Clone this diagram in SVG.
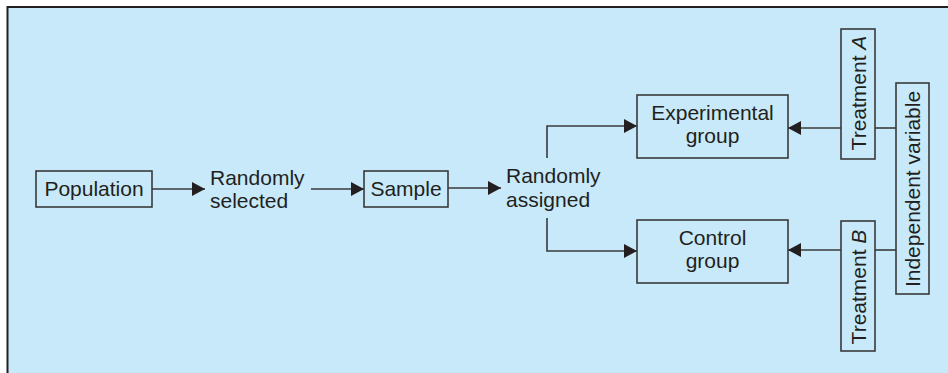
<svg xmlns="http://www.w3.org/2000/svg" width="948" height="373" viewBox="0 0 948 373">
<defs>
<style>
.t{font-family:"Liberation Sans",Arial,sans-serif;font-size:21px;fill:#231F20}
.b{fill:none;stroke:#3a3a3a;stroke-width:1.6}
.c{fill:none;stroke:#3a3a3a;stroke-width:1.6}
</style>
<marker id="ah" markerUnits="userSpaceOnUse" markerWidth="14" markerHeight="14" viewBox="0 0 14 14" refX="13" refY="7" orient="auto">
<path d="M0,0 L13,7 L0,14 Z" fill="#231F20"/>
</marker>
</defs>
<rect x="0" y="0" width="948" height="373" fill="#ffffff"/>
<rect x="8" y="8" width="940" height="365" fill="#C7E9F9"/>
<path d="M7.5,373 V7 H948" fill="none" stroke="#231F20" stroke-width="2"/>
<g id="connectors">
<path class="c" d="M152,189 H205" marker-end="url(#ah)"/>
<path class="c" d="M311,189 H364" marker-end="url(#ah)"/>
<path class="c" d="M448,188 H501" marker-end="url(#ah)"/>
<path class="c" d="M547,158 V126 H637" marker-end="url(#ah)"/>
<path class="c" d="M547,218 V251 H637" marker-end="url(#ah)"/>
<path class="c" d="M841,128 H788" marker-end="url(#ah)"/>
<path class="c" d="M841,250 H788" marker-end="url(#ah)"/>
<path class="c" d="M875,128 H896"/>
<path class="c" d="M875,250 H896"/>
</g>
<g id="population">
<rect class="b" x="36" y="171" width="116" height="36"/>
<text class="t" x="94" y="196" text-anchor="middle">Population</text>
</g>
<g id="randomly-selected">
<text class="t" x="210" y="185">Randomly</text>
<text class="t" x="210" y="208">selected</text>
</g>
<g id="sample">
<rect class="b" x="364" y="171" width="84" height="36"/>
<text class="t" x="406" y="196" text-anchor="middle">Sample</text>
</g>
<g id="randomly-assigned">
<text class="t" x="506" y="183">Randomly</text>
<text class="t" x="506" y="207">assigned</text>
</g>
<g id="experimental-group">
<rect class="b" x="637" y="95" width="151" height="63"/>
<text class="t" x="712.5" y="120" text-anchor="middle">Experimental</text>
<text class="t" x="712.5" y="143" text-anchor="middle">group</text>
</g>
<g id="control-group">
<rect class="b" x="637" y="220" width="151" height="63"/>
<text class="t" x="712.5" y="245" text-anchor="middle">Control</text>
<text class="t" x="712.5" y="268" text-anchor="middle">group</text>
</g>
<g id="treatment-a">
<rect class="b" x="841" y="29" width="34" height="130"/>
<text class="t" transform="translate(866,93) rotate(-90)" text-anchor="middle">Treatment <tspan font-style="italic">A</tspan></text>
</g>
<g id="treatment-b">
<rect class="b" x="841" y="221" width="34" height="130"/>
<text class="t" transform="translate(866,287) rotate(-90)" text-anchor="middle">Treatment <tspan font-style="italic">B</tspan></text>
</g>
<g id="independent-variable">
<rect class="b" x="896" y="83" width="33" height="211"/>
<text class="t" transform="translate(920,189) rotate(-90)" text-anchor="middle">Independent variable</text>
</g>
</svg>
